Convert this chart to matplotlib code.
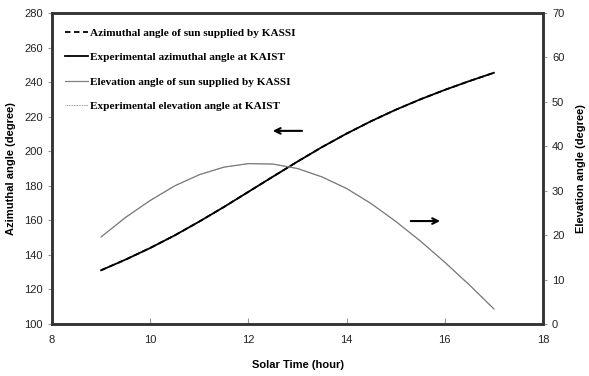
import matplotlib
matplotlib.use("Agg")
import matplotlib.pyplot as plt

# Data
solar_time = [9, 9.5, 10, 10.5, 11, 11.5, 12, 12.5, 13, 13.5, 14, 14.5, 15, 15.5, 16, 16.5, 17]
azimuth_kassi = [131.1, 137.3, 144.0, 151.3, 159.3, 167.7, 176.5, 185.3, 194.0, 202.4,
                 210.2, 217.4, 224.0, 230.0, 235.5, 240.6, 245.4]
azimuth_exp = [131.1, 137.3, 144.0, 151.3, 159.3, 167.7, 176.5, 185.3, 194.0, 202.4,
               210.2, 217.4, 224.0, 230.0, 235.5, 240.6, 245.4]
elevation_kassi = [19.6, 24.0, 27.8, 31.1, 33.6, 35.3, 36.1, 36.0, 35.0, 33.1,
                   30.5, 27.1, 23.1, 18.7, 13.9, 8.8, 3.4]
elevation_exp = [19.6, 24.0, 27.8, 31.1, 33.6, 35.3, 36.1, 36.0, 35.0, 33.1,
                 30.5, 27.1, 23.1, 18.7, 13.9, 8.8, 3.4]

labels = ["Azimuthal angle of sun supplied by KASSI",
          "Experimental azimuthal angle at KAIST",
          "Elevation angle of sun supplied by KASSI",
          "Experimental elevation angle at KAIST"]

x_ticks = [8, 10, 12, 14, 16, 18]
y_left_ticks = [100, 120, 140, 160, 180, 200, 220, 240, 260, 280]
y_right_ticks = [0, 10, 20, 30, 40, 50, 60, 70]

plt.rcParams['font.family'] = ['Liberation Sans', 'DejaVu Sans']

fig = plt.figure(figsize=(5.89, 3.76), dpi=100)
ax = fig.add_axes([52 / 589, 1 - 324 / 376, 491 / 589, 311 / 376])
ax2 = ax.twinx()

l1, = ax.plot(solar_time, azimuth_kassi, color='black', lw=1.3, ls=(0, (3, 2)), label=labels[0])
l2, = ax.plot(solar_time, azimuth_exp, color='black', lw=1.3, ls='-', label=labels[1])
l3, = ax2.plot(solar_time, elevation_kassi, color='#808080', lw=0.9, ls='-', label=labels[2])
l4, = ax2.plot(solar_time, elevation_exp, color='#777777', lw=0.6, ls=(0, (1, 1)), label=labels[3])

ax.set_xlim(8, 18)
ax.set_ylim(100, 280)
ax2.set_ylim(0, 70)
ax.set_xticks(x_ticks)
ax.set_yticks(y_left_ticks)
ax2.set_yticks(y_right_ticks)

for a in (ax, ax2):
    for s in a.spines.values():
        s.set_linewidth(1.8)
        s.set_color('#333333')

ax.tick_params(axis='x', direction='in', length=4, color='#999999', labelsize=8, pad=8, labelcolor='#222222')
ax.tick_params(axis='y', direction='out', length=3, color='#999999', labelsize=8, labelcolor='#222222')
ax2.tick_params(axis='y', direction='out', length=3, color='#999999', labelsize=8, labelcolor='#222222')

ax.set_xlabel("Solar Time (hour)", fontsize=8, fontweight='bold', labelpad=11)
ax.set_ylabel("Azimuthal angle (degree)", fontsize=8, fontweight='bold', labelpad=6)
ax2.set_ylabel("Elevation angle (degree)", fontsize=8, fontweight='bold', labelpad=8)

leg = ax.legend(handles=[l1, l2, l3, l4], loc='upper left', frameon=False,
                prop={'family': 'Liberation Serif', 'weight': 'bold', 'size': 8.1},
                handlelength=2.1, handletextpad=0.2, labelspacing=1.3,
                bbox_to_anchor=(0.005, 0.985))

ax.annotate("", xy=(0.444, 0.621), xytext=(0.515, 0.621), xycoords='axes fraction',
            arrowprops=dict(arrowstyle='->', color='black', lw=1.5))
ax.annotate("", xy=(0.796, 0.331), xytext=(0.725, 0.331), xycoords='axes fraction',
            arrowprops=dict(arrowstyle='->', color='black', lw=1.5))

fig.savefig("out.png", dpi=100)
